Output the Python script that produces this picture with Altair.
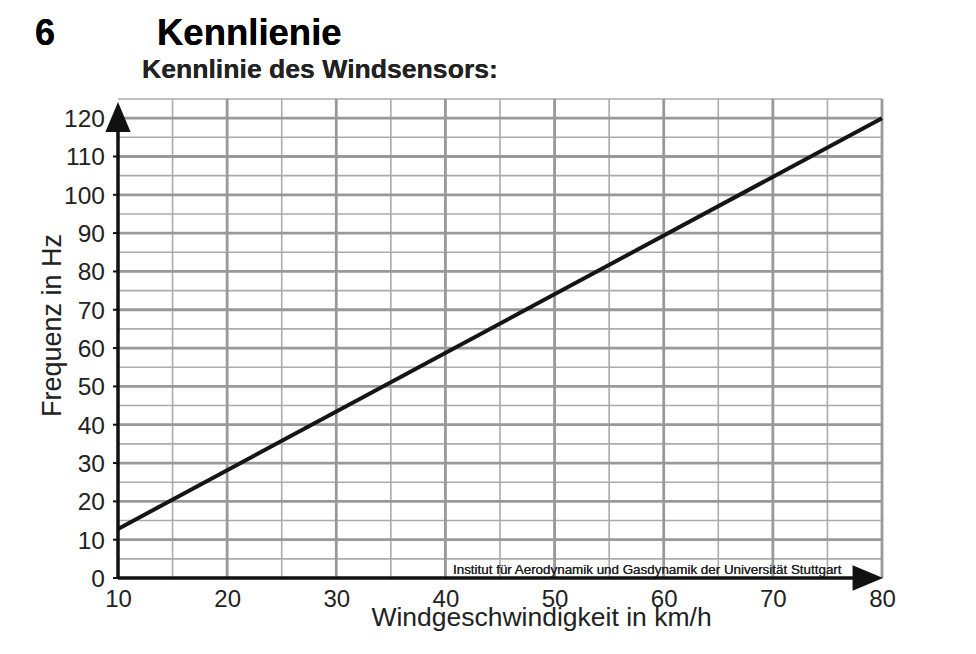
import altair as alt
import pandas as pd

# --- data -------------------------------------------------------------
wind = [10, 80]                # km/h
freq = [12.8, 120]             # Hz

x_ticks = [10, 20, 30, 40, 50, 60, 70, 80]
y_ticks = [0, 10, 20, 30, 40, 50, 60, 70, 80, 90, 100, 110, 120]

grid_x_major = [20, 30, 40, 50, 60, 70, 80]
grid_x_minor = [15, 25, 35, 45, 55, 65, 75]
grid_y_major = [10, 20, 30, 40, 50, 60, 70, 80, 90, 100, 110, 120]
grid_y_minor = [5, 15, 25, 35, 45, 55, 65, 75, 85, 95, 105, 115, 125]

X_MIN, X_MAX = 10, 80
Y_MIN, Y_MAX = 0, 125
Y_AXIS_END = 118      # where the y axis line meets its arrow
X_AXIS_END = 78       # where the x axis line meets its arrow
y_arrow = {"x": 10, "y": 120.3}
x_arrow = {"x": 78.7, "y": 0}

FONT = "Liberation Sans"

line_df = pd.DataFrame({"wind": wind, "freq": freq})
gxM = pd.DataFrame({"v": grid_x_major})
gxm = pd.DataFrame({"v": grid_x_minor})
gyM = pd.DataFrame({"v": grid_y_major})
gym = pd.DataFrame({"v": grid_y_minor})
ytk = pd.DataFrame({"v": y_ticks})

xs = alt.Scale(domain=[X_MIN, X_MAX], nice=False, zero=False)
ys = alt.Scale(domain=[Y_MIN, Y_MAX], nice=False, zero=False)

x_axis = alt.Axis(
    values=x_ticks, format="d", grid=False, domain=False, ticks=False,
    labelFont=FONT, labelFontSize=24, labelColor="#222", labelPadding=28,
    labelBaseline="alphabetic", labelFlush=False, labelOverlap=False,
    labelBound=False,
    title="Windgeschwindigkeit in km/h", titleFont=FONT, titleFontSize=26.5,
    titleFontWeight="normal", titleColor="#222", titleX=423, titleY=47,
    titleAlign="center", titleBaseline="alphabetic", zindex=1,
)
y_axis = alt.Axis(
    grid=False, domain=False, ticks=False, labels=False,
    title="Frequenz in Hz", titleFont=FONT, titleFontSize=27,
    titleFontWeight="normal", titleColor="#222", titleAngle=270,
    titleX=-58, titleY=226, titleAlign="center", titleBaseline="alphabetic",
    zindex=1,
)


def X(field):
    return alt.X(field, scale=xs, axis=x_axis)


def Y(field):
    return alt.Y(field, scale=ys, axis=y_axis)


base = alt.Chart(line_df)

# grid
vminor = alt.Chart(gxm).mark_rule(color="#ababab", strokeWidth=1.6).encode(
    x=X("v:Q"), y=alt.datum(Y_MIN), y2=alt.datum(Y_MAX))
vmajor = alt.Chart(gxM).mark_rule(color="#999999", strokeWidth=2.8).encode(
    x=X("v:Q"), y=alt.datum(Y_MIN), y2=alt.datum(Y_MAX))
hminor = alt.Chart(gym).mark_rule(color="#ababab", strokeWidth=1.6).encode(
    y=Y("v:Q"), x=alt.datum(X_MIN), x2=alt.datum(X_MAX))
hmajor = alt.Chart(gyM).mark_rule(color="#999999", strokeWidth=2.8).encode(
    y=Y("v:Q"), x=alt.datum(X_MIN), x2=alt.datum(X_MAX))

# y-axis ticks and labels
yticks = alt.Chart(ytk).mark_rule(color="#111", strokeWidth=2).encode(
    y=Y("v:Q"), x=alt.value(-5), x2=alt.value(0))
ylabels = alt.Chart(ytk).mark_text(
    font=FONT, fontSize=24.5, color="#222", align="right", baseline="middle",
    dy=2).encode(y=Y("v:Q"), x=alt.value(-13), text=alt.Text("v:Q", format="d"))

# axis lines with arrows
yline = base.mark_rule(color="#111", strokeWidth=3).encode(
    x=alt.datum(X_MIN), y=alt.datum(Y_MIN), y2=alt.datum(Y_AXIS_END))
xline = base.mark_rule(color="#111", strokeWidth=3).encode(
    y=alt.datum(Y_MIN), x=alt.datum(X_MIN), x2=alt.datum(X_AXIS_END))
yarr = alt.Chart(pd.DataFrame([y_arrow])).mark_point(
    shape="M0,-1L0.84,1L-0.84,1Z", size=900, filled=True, color="#111",
    opacity=1, strokeWidth=0).encode(x=X("x:Q"), y=Y("y:Q"))
xarr = alt.Chart(pd.DataFrame([x_arrow])).mark_point(
    shape="M1,0L-1,0.84L-1,-0.84Z", size=930, filled=True, color="#111",
    opacity=1, strokeWidth=0).encode(x=X("x:Q"), y=Y("y:Q"))

# characteristic line
kline = base.mark_line(color="#151515", strokeWidth=4).encode(
    x=X("wind:Q"), y=Y("freq:Q"))


# texts
def txt(s, x, y, size, weight="normal", color="#111", align="left"):
    return base.mark_text(text=s, font=FONT, fontSize=size, fontWeight=weight,
                          color=color, align=align, baseline="alphabetic").encode(
        x=alt.value(x), y=alt.value(y))


t_num = txt("6", -83, -54, 36, "bold", "#000")
t_head = txt("Kennlienie", 39, -54, 36.5, "bold", "#000")
t_sub = txt("Kennlinie des Windsensors:", 24, -21, 26.6, "bold", "#222")
t_inst = txt("Institut für Aerodynamik und Gasdynamik der Universität Stuttgart",
             335, 475, 13.4, "normal", "#222")

chart = alt.layer(
    vminor, hminor, vmajor, hmajor, kline, yline, xline, yticks, ylabels,
    yarr, xarr, t_num, t_head, t_sub, t_inst,
).properties(
    width=764, height=479,
    autosize=alt.AutoSizeParams(type="none"),
    padding={"left": 110, "top": 91, "right": 80, "bottom": 70},
    background="white",
).configure_view(stroke=None)

chart.save("out.html", embed_options={"renderer": "svg", "actions": False})
